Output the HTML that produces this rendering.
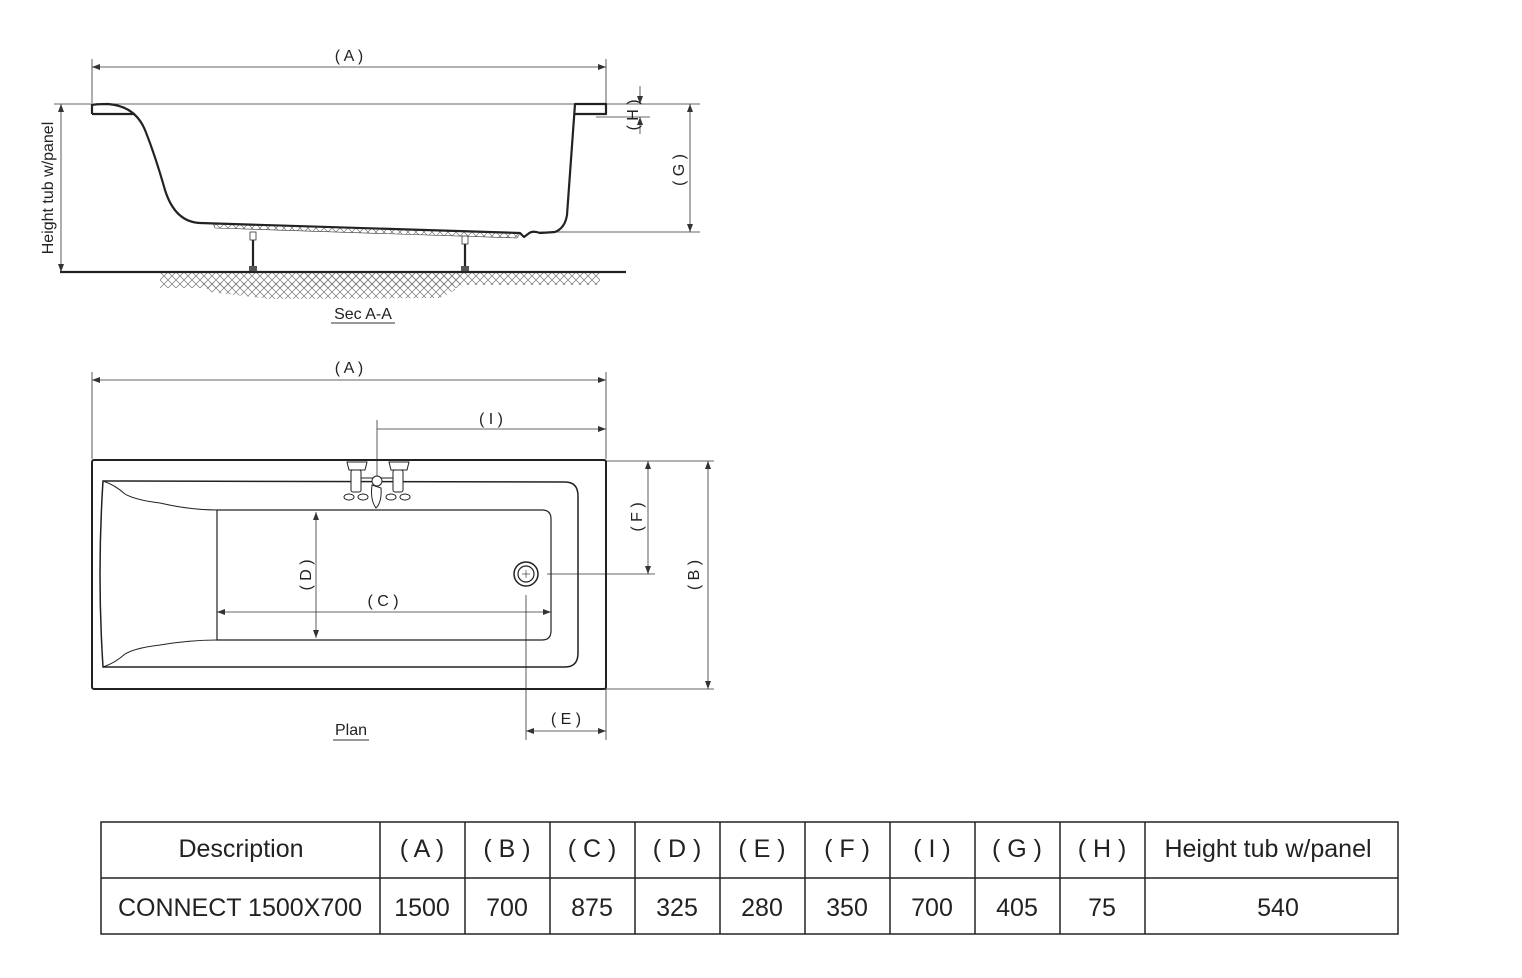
<!DOCTYPE html>
<html><head><meta charset="utf-8"><style>
body{margin:0;background:#fff;width:1522px;height:978px;overflow:hidden;font-family:"Liberation Sans",sans-serif}
svg{position:absolute;left:0;top:0}
text{font-family:"Liberation Sans",sans-serif;fill:#222}
</style></head><body>
<svg width="1522" height="978" viewBox="0 0 1522 978">
<defs>
<marker id="ar" markerWidth="8" markerHeight="6" refX="8" refY="3" orient="auto-start-reverse" markerUnits="userSpaceOnUse"><path d="M0,0 L8,3 L0,6 Z" fill="#333"/></marker>
<pattern id="hat" width="8" height="8" patternUnits="userSpaceOnUse"><path d="M0,8 L8,0 M0,0 L8,8" stroke="#777" stroke-width="0.7"/></pattern>
</defs>
<g stroke="#333" stroke-width="0.8" fill="none">
<!-- Section -->
<line x1="92" y1="59" x2="92" y2="103"/><line x1="606" y1="59" x2="606" y2="103"/>
<line x1="92" y1="67" x2="606" y2="67" marker-start="url(#ar)" marker-end="url(#ar)"/>
<line x1="92" y1="104" x2="700" y2="104"/>
<line x1="61" y1="104" x2="61" y2="272" marker-start="url(#ar)" marker-end="url(#ar)"/>
<line x1="54" y1="104" x2="92" y2="104"/>
<line x1="690" y1="104" x2="690" y2="232" marker-start="url(#ar)" marker-end="url(#ar)"/>
<line x1="540" y1="232" x2="700" y2="232"/>
<line x1="640" y1="86" x2="640" y2="104" marker-end="url(#ar)"/>
<line x1="640" y1="134" x2="640" y2="117" marker-end="url(#ar)"/>
<line x1="596" y1="117" x2="650" y2="117"/>
</g>
<path d="M200,282 L455,282 L455,290 L440,298 L270,299 L210,292 Z" fill="url(#hat)"/>
<rect x="160" y="273" width="300" height="15" fill="url(#hat)"/>
<rect x="300" y="273" width="300" height="12" fill="url(#hat)"/>
<path d="M213,223 L520,233 L517,238 L215,228 Z" fill="url(#hat)" stroke="#333" stroke-width="0.6"/>
<g stroke="#222" stroke-width="2.2" fill="none" stroke-linejoin="round">
<path d="M92,114 L92,105 Q96,104 108,104 Q135,106 145,130 Q155,155 165,190 Q175,222 200,223 L520,233 L524,237 L528,234 Q532,230 540,233 L555,232 Q565,228 567,215 L575,104 L606,104 L606,114 L575,114"/>
<line x1="92" y1="114" x2="135" y2="114"/>
<line x1="60" y1="272" x2="626" y2="272"/>
<line x1="253" y1="236" x2="253" y2="272"/><line x1="465" y1="240" x2="465" y2="272"/>
</g>
<g fill="#555"><rect x="249" y="266" width="8" height="5"/><rect x="461" y="266" width="8" height="5"/></g>
<g stroke="#333" stroke-width="0.8" fill="#fff"><rect x="250" y="232" width="6" height="8"/><rect x="462" y="236" width="6" height="8"/></g>
<text x="349" y="61" font-size="16" text-anchor="middle">( A )</text>
<text transform="translate(53,188) rotate(-90)" font-size="16" text-anchor="middle">Height tub w/panel</text>
<text transform="translate(684,170) rotate(-90)" font-size="16" text-anchor="middle">( G )</text>
<text transform="translate(638,115) rotate(-90)" font-size="16" text-anchor="middle">( H )</text>
<text x="363" y="319" font-size="16" text-anchor="middle">Sec A-A</text>
<line x1="331" y1="323" x2="395" y2="323" stroke="#333"/>
<!-- Plan -->
<g stroke="#333" stroke-width="0.8" fill="none">
<line x1="92" y1="372" x2="92" y2="459"/><line x1="606" y1="372" x2="606" y2="459"/>
<line x1="92" y1="380" x2="606" y2="380" marker-start="url(#ar)" marker-end="url(#ar)"/>
<line x1="377" y1="420" x2="377" y2="495"/>
<line x1="377" y1="429" x2="606" y2="429" marker-end="url(#ar)"/>
<line x1="606" y1="461" x2="714" y2="461"/><line x1="606" y1="689" x2="714" y2="689"/>
<line x1="708" y1="461" x2="708" y2="689" marker-start="url(#ar)" marker-end="url(#ar)"/>
<line x1="648" y1="461" x2="648" y2="574" marker-start="url(#ar)" marker-end="url(#ar)"/>
<line x1="547" y1="574" x2="655" y2="574"/>
<line x1="526" y1="595" x2="526" y2="740"/><line x1="606" y1="689" x2="606" y2="740"/>
<line x1="526" y1="731" x2="606" y2="731" marker-start="url(#ar)" marker-end="url(#ar)"/>
<line x1="217" y1="612" x2="551" y2="612" marker-start="url(#ar)" marker-end="url(#ar)"/>
<line x1="316" y1="512" x2="316" y2="638" marker-start="url(#ar)" marker-end="url(#ar)"/>
</g>
<g stroke="#222" fill="none">
<rect x="92" y="460" width="514" height="229" rx="2" stroke-width="2"/>
<path d="M103,481 L565,482 Q578,482 578,496 L578,653 Q578,667 565,667 L103,667 Q97,574 103,481 Z" stroke-width="1.5"/>
<path d="M217,510 L542,510 Q551,510 551,519 L551,631 Q551,640 542,640 L217,640 Z" stroke-width="1.2"/>
<path d="M103,481 Q115,485 125,494 Q135,500 160,503 Q190,510 217,510" stroke-width="1"/>
<path d="M103,667 Q115,663 125,654 Q135,648 160,645 Q190,640 217,640" stroke-width="1"/>
<circle cx="526" cy="574" r="12" stroke-width="1.5"/><circle cx="526" cy="574" r="8" stroke-width="1.2"/>
<line x1="522" y1="574" x2="530" y2="574" stroke-width="0.6"/><line x1="526" y1="570" x2="526" y2="578" stroke-width="0.6"/>
</g>
<g stroke="#222" stroke-width="1" fill="#fff">
<path d="M347,462 L367,462 L365,470 L349,470 Z"/><path d="M389,462 L409,462 L407,470 L391,470 Z"/>
<rect x="351" y="470" width="10" height="22" rx="2"/><rect x="393" y="470" width="10" height="22" rx="2"/>
<line x1="361" y1="478" x2="393" y2="478"/>
<path d="M372,485 Q370,500 376,508 Q382,502 381,488 Z"/>
<circle cx="377" cy="481" r="5"/>
<ellipse cx="349" cy="497" rx="5" ry="3"/><ellipse cx="363" cy="497" rx="5" ry="3"/>
<ellipse cx="391" cy="497" rx="5" ry="3"/><ellipse cx="405" cy="497" rx="5" ry="3"/>
</g>
<text x="349" y="373" font-size="16" text-anchor="middle">( A )</text>
<text x="491" y="424" font-size="16" text-anchor="middle">( I )</text>
<text x="383" y="606" font-size="16" text-anchor="middle">( C )</text>
<text x="566" y="724" font-size="16" text-anchor="middle">( E )</text>
<text transform="translate(311,575) rotate(-90)" font-size="16" text-anchor="middle">( D )</text>
<text transform="translate(642,517) rotate(-90)" font-size="16" text-anchor="middle">( F )</text>
<text transform="translate(699,575) rotate(-90)" font-size="16" text-anchor="middle">( B )</text>
<text x="351" y="735" font-size="16" text-anchor="middle">Plan</text>
<line x1="333" y1="740" x2="369" y2="740" stroke="#333"/>
<!-- Table -->
<g stroke="#222" stroke-width="1.5" fill="none">
<rect x="101" y="822" width="1297" height="112"/>
<line x1="101" y1="878" x2="1398" y2="878"/>
<line x1="380" y1="822" x2="380" y2="934"/><line x1="465" y1="822" x2="465" y2="934"/>
<line x1="550" y1="822" x2="550" y2="934"/><line x1="635" y1="822" x2="635" y2="934"/>
<line x1="720" y1="822" x2="720" y2="934"/><line x1="805" y1="822" x2="805" y2="934"/>
<line x1="890" y1="822" x2="890" y2="934"/><line x1="975" y1="822" x2="975" y2="934"/>
<line x1="1060" y1="822" x2="1060" y2="934"/><line x1="1145" y1="822" x2="1145" y2="934"/>
</g>
<g font-size="25" text-anchor="middle">
<text x="241" y="857">Description</text>
<text x="422" y="857">( A )</text><text x="507" y="857">( B )</text><text x="592" y="857">( C )</text>
<text x="677" y="857">( D )</text><text x="762" y="857">( E )</text><text x="847" y="857">( F )</text>
<text x="932" y="857">( I )</text><text x="1017" y="857">( G )</text><text x="1102" y="857">( H )</text>
<text x="1268" y="857">Height tub w/panel</text>
<text x="240" y="916">CONNECT 1500X700</text>
<text x="422" y="916">1500</text><text x="507" y="916">700</text><text x="592" y="916">875</text>
<text x="677" y="916">325</text><text x="762" y="916">280</text><text x="847" y="916">350</text>
<text x="932" y="916">700</text><text x="1017" y="916">405</text><text x="1102" y="916">75</text>
<text x="1278" y="916">540</text>
</g>
</svg>
</body></html>
